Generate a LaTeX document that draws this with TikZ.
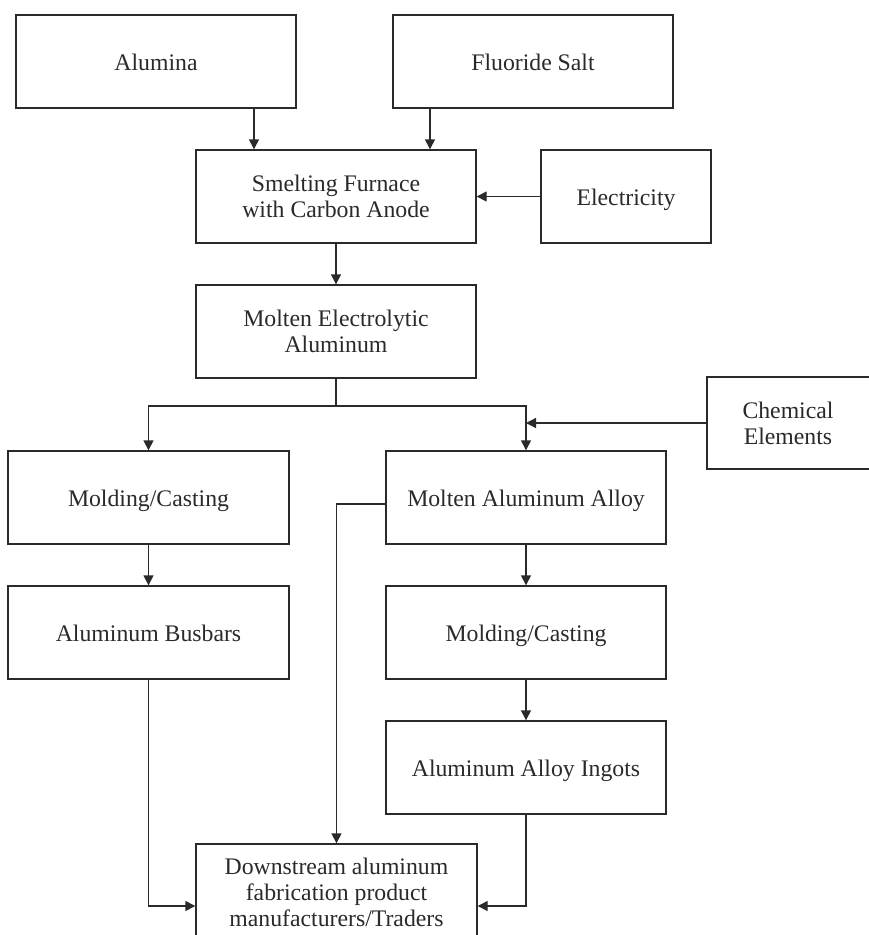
\documentclass[tikz,border=0pt]{standalone}
\usepackage{fontspec}
\setmainfont{Liberation Serif}
\usetikzlibrary{arrows.meta,calc}
\definecolor{ink}{HTML}{2A2A2A}
\begin{document}
\begin{tikzpicture}[x=1pt,y=-1pt,
  box/.style={draw=ink,line width=1.4pt,rectangle,minimum height=93pt,inner sep=0pt,
    text=ink,align=center,font=\fontsize{23.75}{26}\selectfont},
  one/.style={text height=20pt,text depth=3pt},
  wbox/.style={box,minimum width=280pt},
  arr/.style={draw=ink,line width=1.4pt,-{Triangle[length=10pt,width=10pt]}},
  ln/.style={draw=ink,line width=1.4pt}]
\clip (0,0) rectangle (869,935);
\fill[white] (0,0) rectangle (869,935);
% nodes
\node[wbox,one] (alumina) at (156,61.5) {Alumina};
\node[wbox,one] (fluoride) at (533,61.5) {Fluoride Salt};
\node[wbox] (smelt) at (336,196.5) {Smelting Furnace\\with Carbon Anode};
\node[box,one,minimum width=170pt] (elec) at (626,196.5) {Electricity};
\node[wbox] (molten) at (336,331.5) {Molten Electrolytic\\Aluminum};
\node[box,minimum width=170pt,minimum height=92pt] (chem) at (792,423) {\hspace*{-8pt}Chemical\\\hspace*{-8pt}Elements};
\node[wbox,one,minimum width=281pt] (moldL) at (148.5,497.5) {Molding/Casting};
\node[wbox,one] (alloy) at (526,497.5) {Molten Aluminum Alloy};
\node[wbox,one,minimum width=281pt] (busbars) at (148.5,632.5) {Aluminum Busbars};
\node[wbox,one] (moldR) at (526,632.5) {Molding/Casting};
\node[wbox,one] (ingots) at (526,767.5) {Aluminum Alloy Ingots};
\node[box,minimum width=281pt,minimum height=96pt] (down) at (336.5,892) {Downstream aluminum\\fabrication product\\manufacturers/Traders};
% helper coordinates
\coordinate (xa) at (254,0);
\coordinate (xf) at (430,0);
\coordinate (split) at (336,406);
% connectors
\draw[arr] (alumina.south -| xa) -- (smelt.north -| xa);
\draw[arr] (fluoride.south -| xf) -- (smelt.north -| xf);
\draw[arr] (elec.west) -- (smelt.east);
\draw[arr] (smelt.south) -- (molten.north);
\draw[ln] (molten.south) -- (split);
\draw[arr] (split) -| (moldL.north);
\draw[arr] (split) -| (alloy.north);
\draw[arr] (chem.west) -- (chem.west -| alloy.north);
\draw[arr] ([yshift=-6.5pt]alloy.west) -| (down.north);
\draw[arr] (moldL.south) -- (busbars.north);
\draw[arr] (busbars.south) |- ([yshift=-14pt]down.west);
\draw[arr] (alloy.south) -- (moldR.north);
\draw[arr] (moldR.south) -- (ingots.north);
\draw[arr] (ingots.south) |- ([yshift=-14pt]down.east);
\end{tikzpicture}
\end{document}
